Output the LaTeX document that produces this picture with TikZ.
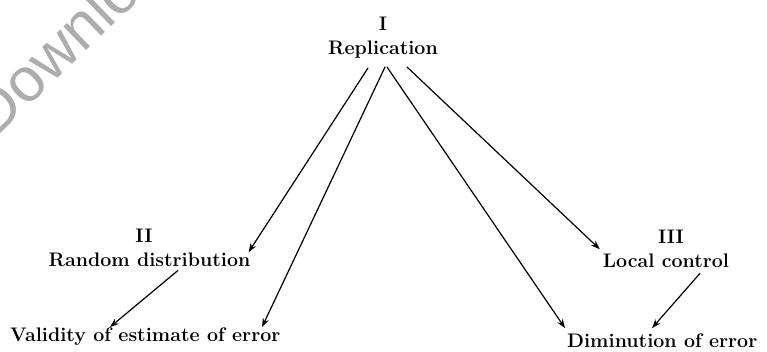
\documentclass[tikz,border=0pt]{standalone}
\usepackage{fontspec}
\newfontfamily\wmfont{Liberation Sans}
\usetikzlibrary{calc,arrows.meta}
\begin{document}
\begin{tikzpicture}[x=1pt,y=-1pt,
  lbl/.style={inner sep=0pt, font=\fontsize{19.6}{23}\selectfont\bfseries, anchor=base},
  lblw/.style={lbl, anchor=base west},
  conn/.style={line width=1.2pt, line cap=round, -{Stealth[length=9pt,width=6.5pt]}}]
\useasboundingbox (0,0) rectangle (767,351);
% watermark
\begin{scope}
  \clip (0,0) rectangle (767,351);
  \node[anchor=base west, inner sep=0pt, rotate=44, text=black!32,
        font=\wmfont\fontsize{62}{62}\selectfont] (wm) at (-6,140) {Downloaded};
\end{scope}
% labels
\node[lbl] (n1)  at (383,30)  {I};
\node[lbl] (rep) at (383,54)  {Replication};
\node[lbl] (n2)  at (144,242) {II};
\node[lbl] (rd)  at (149.5,266) {Random distribution};
\node[lbl] (n3)  at (671,243) {III};
\node[lbl] (lc)  at (666,267) {Local control};
\node[lblw] (val) at (10,341) {Validity of estimate of error};
\node[lblw] (dim) at (567,347) {Diminution of error};
% connectors
\draw[conn] ($(rep.south)+(-15,10)$) -- ($(rd.north east)+(-2,0)$);
\draw[conn] ($(rep.south)+(2,9)$)    -- ($(val.north west)+(252,0)$);
\draw[conn] ($(rep.south)+(4,9)$)    -- ($(dim.north west)+(-2,-5)$);
\draw[conn] ($(rep.south)+(24,9)$)   -- ($(lc.north west)+(-3,-4)$);
\draw[conn] ($(rd.south)+(28.5,4)$)  -- ($(val.north west)+(100,0)$);
\draw[conn] ($(lc.south)+(34,6)$)    -- ($(dim.north west)+(85,-5)$);
\end{tikzpicture}
\end{document}
